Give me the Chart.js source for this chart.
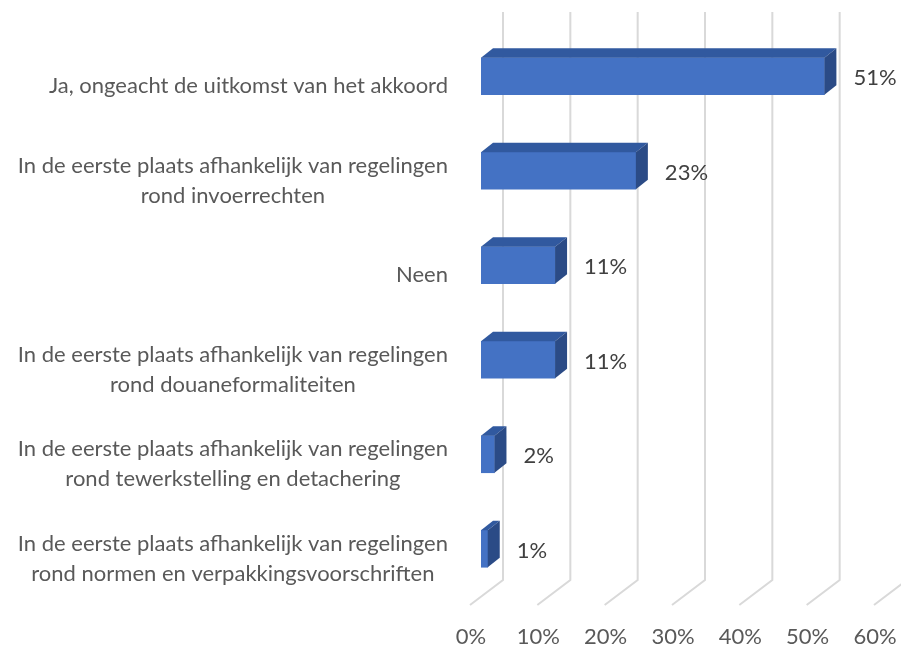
<!DOCTYPE html>
<html lang="nl">
<head>
  <meta charset="UTF-8" />
  <title>Akkoord</title>
  <script src="https://cdn.jsdelivr.net/npm/chart.js"></script>
  <style>
    body { margin: 0; background: #fff; }
  </style>
</head>
<body>
  <canvas id="chart" width="901" height="648"></canvas>

  <script>
// === data ===
const categories = [
  ["Ja, ongeacht de uitkomst van het akkoord"],
  ["In de eerste plaats afhankelijk van regelingen", "rond invoerrechten"],
  ["Neen"],
  ["In de eerste plaats afhankelijk van regelingen", "rond douaneformaliteiten"],
  ["In de eerste plaats afhankelijk van regelingen", "rond tewerkstelling en detachering"],
  ["In de eerste plaats afhankelijk van regelingen", "rond normen en verpakkingsvoorschriften"]
];
const shares = [51, 23, 11, 11, 2, 1];
const xTicks = [0, 10, 20, 30, 40, 50, 60];

const FONT = "Lato, sans-serif";
const FONT_SIZE = 22;
const DEPTH_X = 12, DEPTH_Y = 9.5;

// gridlines: back wall + slanted floor
const gridPlugin = {
  id: "grid3d",
  beforeDatasetsDraw(chart) {
    const ctx = chart.ctx;
    const xs = chart.scales.x;
    const area = chart.chartArea;
    ctx.save();
    ctx.strokeStyle = "#d9d9d9";
    ctx.lineWidth = 2;
    xTicks.forEach(v => {
      const xb = xs.getPixelForValue(v) + 22;
      ctx.beginPath();
      ctx.moveTo(xb, area.top - 17);
      ctx.lineTo(xb, area.bottom - 16);
      ctx.lineTo(xb - 33, area.bottom + 9);
      ctx.stroke();
    });
    ctx.restore();
  }
};

// 3d faces, value labels and category labels
const barPlugin = {
  id: "bars3d",
  afterDatasetsDraw(chart) {
    const ctx = chart.ctx;
    const meta = chart.getDatasetMeta(0);
    ctx.save();
    meta.data.forEach((bar, i) => {
      const p = bar.getProps(["x", "y", "base", "height"], true);
      const top = p.y - p.height / 2, bottom = p.y + p.height / 2;
      // top face
      ctx.fillStyle = "#31599f";
      ctx.beginPath();
      ctx.moveTo(p.base, top);
      ctx.lineTo(p.x, top);
      ctx.lineTo(p.x + DEPTH_X, top - DEPTH_Y);
      ctx.lineTo(p.base + DEPTH_X, top - DEPTH_Y);
      ctx.closePath();
      ctx.fill();
      // side face
      ctx.fillStyle = "#2b4b86";
      ctx.beginPath();
      ctx.moveTo(p.x, top);
      ctx.lineTo(p.x + DEPTH_X, top - DEPTH_Y);
      ctx.lineTo(p.x + DEPTH_X, bottom - DEPTH_Y);
      ctx.lineTo(p.x, bottom);
      ctx.closePath();
      ctx.fill();
      // value label
      ctx.fillStyle = "#404040";
      ctx.font = FONT_SIZE + "px " + FONT;
      ctx.textAlign = "left";
      ctx.textBaseline = "middle";
      ctx.fillText(shares[i] + "%", p.x + 29, p.y + 2);
    });

    // category labels: block right aligned, lines centred
    const ys = chart.scales.y;
    const right = chart.chartArea.left - 33;
    ctx.fillStyle = "#595959";
    ctx.textAlign = "center";
    ctx.textBaseline = "middle";
    categories.forEach((lines, i) => {
      const yc = ys.getPixelForValue(i);
      const w = Math.max(...lines.map(l => ctx.measureText(l).width));
      const cx = right - w / 2;
      lines.forEach((l, j) => {
        ctx.fillText(l, cx, yc + 10 + (j - (lines.length - 1) / 2) * 30);
      });
    });
    ctx.restore();
  }
};

new Chart(document.getElementById("chart").getContext("2d"), {
  type: "bar",
  data: {
    labels: categories,
    datasets: [{
      data: shares,
      backgroundColor: "#4472c4",
      barThickness: 37,
      borderWidth: 0
    }]
  },
  options: {
    indexAxis: "y",
    responsive: false,
    animation: false,
    devicePixelRatio: 1,
    layout: { padding: { left: 481, right: 16, top: 29, bottom: 0 } },
    plugins: {
      legend: { display: false },
      tooltip: { enabled: false }
    },
    scales: {
      y: { display: false },
      x: {
        min: 0,
        max: 60,
        afterBuildTicks: axis => { axis.ticks = xTicks.map(v => ({ value: v })); },
        afterFit: axis => {
          axis.paddingLeft = 0;
          axis.paddingRight = 0;
          axis.height = 52;
        },
        ticks: {
          callback: v => v + "%",
          labelOffset: -10,
          padding: 28,
          color: "#595959",
          font: { family: FONT, size: FONT_SIZE }
        },
        grid: { display: false, drawTicks: false },
        border: { display: false }
      }
    }
  },
  plugins: [gridPlugin, barPlugin]
});
  </script>
</body>
</html>
